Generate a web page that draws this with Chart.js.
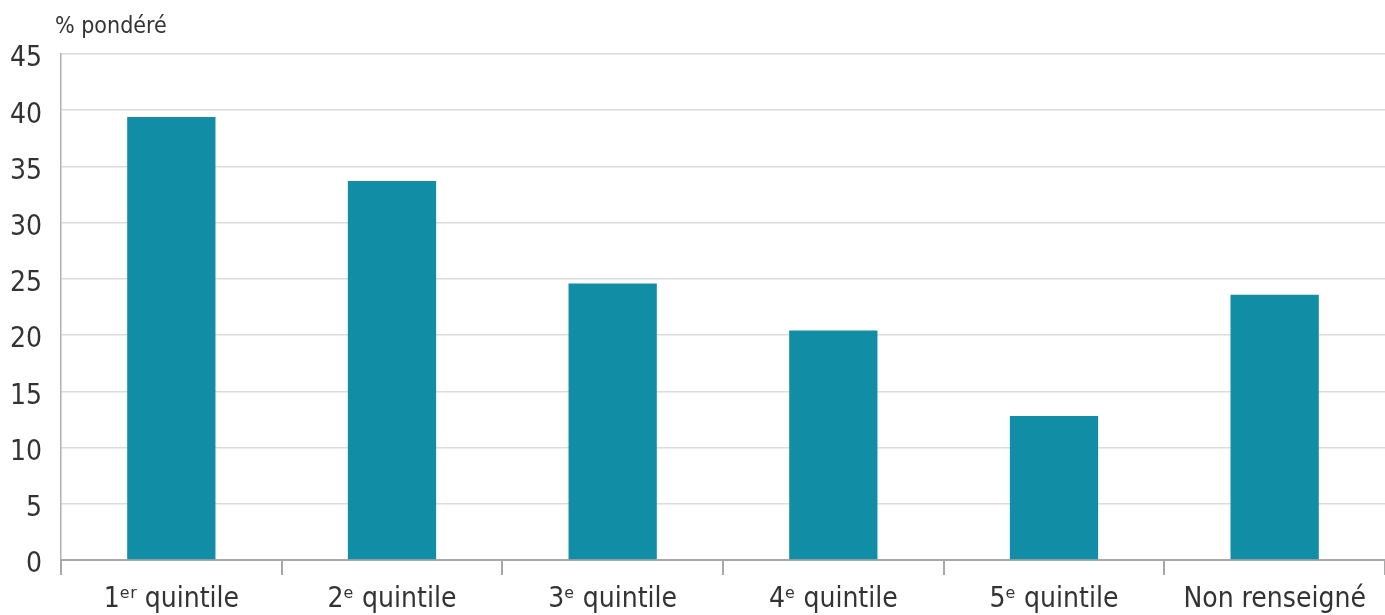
<!DOCTYPE html>
<html>
<head>
<meta charset="utf-8">
<script src="https://cdn.jsdelivr.net/npm/chart.js@4.4.0/dist/chart.umd.min.js"></script>
<style>
html,body{margin:0;padding:0;background:#fff;}
#wrap{width:1385px;height:615px;position:relative;}
</style>
</head>
<body>
<div id="wrap"><canvas id="c" width="1385" height="615"></canvas></div>
<script>
const categories = ["1ᵉʳ quintile", "2ᵉ quintile", "3ᵉ quintile", "4ᵉ quintile", "5ᵉ quintile", "Non renseigné"];
const values = [39.4, 33.7, 24.6, 20.4, 12.8, 23.6];
const yTicks = [0, 5, 10, 15, 20, 25, 30, 35, 40, 45];
const yTitle = "% pondéré";

const FONT = "'Liberation Sans Narrow', 'DejaVu Sans Condensed', 'Liberation Sans', sans-serif";
const TEXT = '#333333';

const titlePlugin = {
  id: 'ytitle',
  afterDraw(chart) {
    const ctx = chart.ctx;
    ctx.save();
    ctx.font = '23px ' + FONT;
    ctx.fillStyle = TEXT;
    ctx.textAlign = 'left';
    ctx.textBaseline = 'middle';
    ctx.fillText(yTitle, 55, 27);
    ctx.restore();
  }
};

new Chart(document.getElementById('c'), {
  type: 'bar',
  data: {
    labels: categories,
    datasets: [{
      data: values,
      backgroundColor: '#118da6',
      borderWidth: 0,
      categoryPercentage: 1,
      barPercentage: 0.4
    }]
  },
  options: {
    responsive: false,
    animation: false,
    layout: { padding: { top: 54, right: 0, left: 0, bottom: 0 } },
    plugins: { legend: { display: false }, tooltip: { enabled: false } },
    scales: {
      x: {
        offset: true,
        grid: {
          display: true,
          drawOnChartArea: false,
          drawTicks: true,
          tickLength: 15,
          color: '#a8a8a8',
          lineWidth: 2,
          offset: true
        },
        border: { display: true, color: '#a8a8a8', width: 2 },
        ticks: {
          color: TEXT,
          font: { family: FONT, size: 28 },
          padding: 8,
          maxRotation: 0,
          autoSkip: false
        },
        afterFit(scale) { scale.height = 55; }
      },
      y: {
        min: 0,
        max: 45,
        afterBuildTicks(scale) { scale.ticks = yTicks.map(v => ({ value: v })); },
        grid: {
          color: '#dcdcdc',
          lineWidth: 1.5,
          drawTicks: false
        },
        border: { display: true, color: '#b0b0b0', width: 1.5 },
        ticks: {
          color: TEXT,
          font: { family: FONT, size: 28 },
          padding: 19,
          labelOffset: 5
        },
        afterFit(scale) { scale.width = 61; }
      }
    }
  },
  plugins: [titlePlugin]
});
</script>
</body>
</html>
